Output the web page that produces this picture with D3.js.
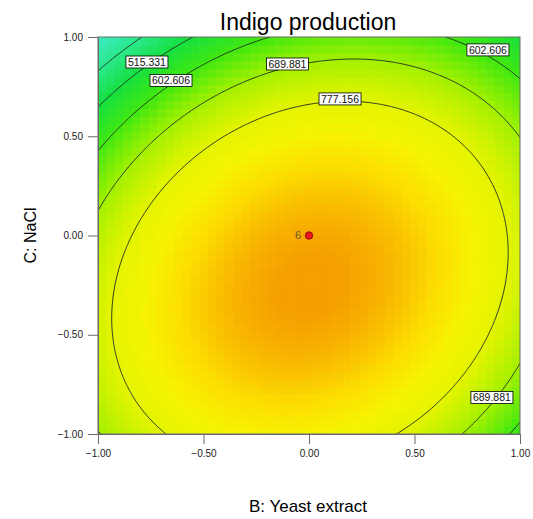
<!DOCTYPE html>
<html>
<head>
<meta charset="utf-8">
<script src="https://cdn.jsdelivr.net/npm/d3@7"></script>
<style>
  html, body { margin: 0; padding: 0; background: #ffffff; }
  svg text { font-family: "Liberation Sans", Arial, sans-serif; }
</style>
</head>
<body>
<svg id="chart" width="533" height="519"></svg>
<script>
// ---- data ----
const chartTitle = "Indigo production";
const xAxisTitle = "B: Yeast extract";
const yAxisTitle = "C: NaCl";
const xTicks = [-1.00, -0.50, 0.00, 0.50, 1.00];
const yTicks = [-1.00, -0.50, 0.00, 0.50, 1.00];

// Intercept, B, C, BC, B^2, C^2
const coefNames  = ["Intercept", "B", "C", "BC", "B2", "C2"];
const coefValues = [935, 20, -103.4, 72.5, -200, -205];

// contour levels drawn on the plot
const contourLevels = [428.056, 515.331, 602.606, 689.881, 777.156];

// contour labels (text and their position in coded units)
const labelTexts = ["515.331", "602.606", "689.881", "777.156", "602.606", "689.881"];
const labelB     = [-0.768, -0.654, -0.102, 0.147, 0.848, 0.867];
const labelC     = [ 0.874,  0.781,  0.864, 0.688, 0.935, -0.816];

// design point
const designB = [0.0];
const designC = [0.0];
const designLabel = ["6"];

// colour ramp (response value -> colour)
const colorStopValues = [330, 428, 515, 602, 690, 735, 777, 830, 880, 915, 945];
const colorStopColors = ["#3cecc8", "#2ae88c", "#16e040", "#40e810", "#a2f000", "#c6f200",
                         "#e4f400", "#f6f400", "#fcdc00", "#f9bc00", "#f59f00"];

// ---- drawing ----
const W = 533, H = 519;
const margin = { left: 98, top: 37, right: 13, bottom: 85 };
const pw = W - margin.left - margin.right;   // 422
const ph = H - margin.top - margin.bottom;   // 397

const svg = d3.select("#chart");
const x = d3.scaleLinear().domain([-1, 1]).range([margin.left, margin.left + pw]);
const y = d3.scaleLinear().domain([-1, 1]).range([margin.top + ph, margin.top]);
const color = d3.scaleLinear().domain(colorStopValues).range(colorStopColors).clamp(true);

function response(B, C) {
  const [b0, b1, b2, b12, b11, b22] = coefValues;
  return b0 + b1 * B + b2 * C + b12 * B * C + b11 * B * B + b22 * C * C;
}

svg.append("defs").append("clipPath").attr("id", "plotclip")
  .append("rect").attr("x", x(-1)).attr("y", y(1)).attr("width", pw).attr("height", ph);

// heat-map cells
const nCells = 50;
const cells = [];
for (let i = 0; i < nCells; i++) {
  for (let j = 0; j < nCells; j++) {
    const b0 = -1 + 2 * i / nCells, b1 = -1 + 2 * (i + 1) / nCells;
    const c0 = -1 + 2 * j / nCells, c1 = -1 + 2 * (j + 1) / nCells;
    cells.push({ b0, b1, c0, c1, v: response((b0 + b1) / 2, (c0 + c1) / 2) });
  }
}
const gHeat = svg.append("g").attr("clip-path", "url(#plotclip)");
gHeat.selectAll("rect").data(cells).join("rect")
  .attr("x", d => x(d.b0))
  .attr("y", d => y(d.c1))
  .attr("width", d => x(d.b1) - x(d.b0) + 0.6)
  .attr("height", d => y(d.c0) - y(d.c1) + 0.6)
  .attr("fill", d => color(d.v));

// contour lines
const step = 0.01, ext = 1.1;
const nGrid = Math.round(2 * ext / step) + 1;
const values = new Array(nGrid * nGrid);
for (let j = 0; j < nGrid; j++) {
  const C = ext - j * step;
  for (let i = 0; i < nGrid; i++) {
    const B = -ext + i * step;
    values[j * nGrid + i] = response(B, C);
  }
}
const contours = d3.contours().size([nGrid, nGrid]).thresholds(contourLevels)(values);
const proj = d3.geoTransform({
  point: function (gx, gy) {
    this.stream.point(x(-ext + (gx - 0.5) * step), y(ext - (gy - 0.5) * step));
  }
});
const path = d3.geoPath(proj);
svg.append("g").attr("clip-path", "url(#plotclip)")
  .selectAll("path").data(contours).join("path")
  .attr("d", path)
  .attr("fill", "none")
  .attr("stroke", "#1e2a1e")
  .attr("stroke-width", 0.9);

// contour labels
const gLab = svg.append("g");
labelTexts.forEach((t, k) => {
  const cx = x(labelB[k]), cy = y(labelC[k]);
  const bw = 42, bh = 12;
  gLab.append("rect")
    .attr("x", cx - bw / 2).attr("y", cy - bh / 2)
    .attr("width", bw).attr("height", bh)
    .attr("fill", "#ffffff").attr("stroke", "#000000").attr("stroke-width", 0.8);
  gLab.append("text")
    .attr("x", cx).attr("y", cy + 3.8)
    .attr("text-anchor", "middle")
    .attr("font-size", 10.5)
    .attr("fill", "#111111")
    .text(t);
});

// design point
designB.forEach((b, k) => {
  svg.append("circle").attr("cx", x(b)).attr("cy", y(designC[k])).attr("r", 3.8)
    .attr("fill", "#e8141a").attr("stroke", "#8a1010").attr("stroke-width", 0.8);
  svg.append("text").attr("x", x(b) - 8).attr("y", y(designC[k]) + 3.8)
    .attr("text-anchor", "end").attr("font-size", 11).attr("fill", "#6e5634")
    .text(designLabel[k]);
});

// frame
svg.append("rect").attr("x", x(-1)).attr("y", y(1)).attr("width", pw).attr("height", ph)
  .attr("fill", "none").attr("stroke", "#6a6a6a").attr("stroke-width", 1);

// axes
const fmt = d3.format(".2f");
const xAxis = d3.axisBottom(x).tickValues(xTicks).tickFormat(fmt).tickSize(10).tickPadding(6);
const yAxis = d3.axisLeft(y).tickValues(yTicks).tickFormat(fmt).tickSize(10).tickPadding(5);
const gx = svg.append("g").attr("transform", `translate(0,${y(-1)})`).call(xAxis);
const gy = svg.append("g").attr("transform", `translate(${x(-1)},0)`).call(yAxis);
[gx, gy].forEach(g => {
  g.select(".domain").attr("stroke", "#6a6a6a");
  g.selectAll(".tick line").attr("stroke", "#6a6a6a");
  g.selectAll(".tick text").attr("font-size", 10).attr("fill", "#222222")
    .attr("font-family", "\"Liberation Sans\", Arial, sans-serif");
});

// titles
svg.append("text").attr("x", 308).attr("y", 30).attr("text-anchor", "middle")
  .attr("font-size", 23).attr("fill", "#000000").text(chartTitle);
svg.append("text").attr("x", 308).attr("y", 512).attr("text-anchor", "middle")
  .attr("font-size", 17).attr("fill", "#000000").text(xAxisTitle);
svg.append("text").attr("transform", `translate(36,${y(0)}) rotate(-90)`)
  .attr("text-anchor", "middle").attr("font-size", 16).attr("fill", "#000000").text(yAxisTitle);
</script>
</body>
</html>
